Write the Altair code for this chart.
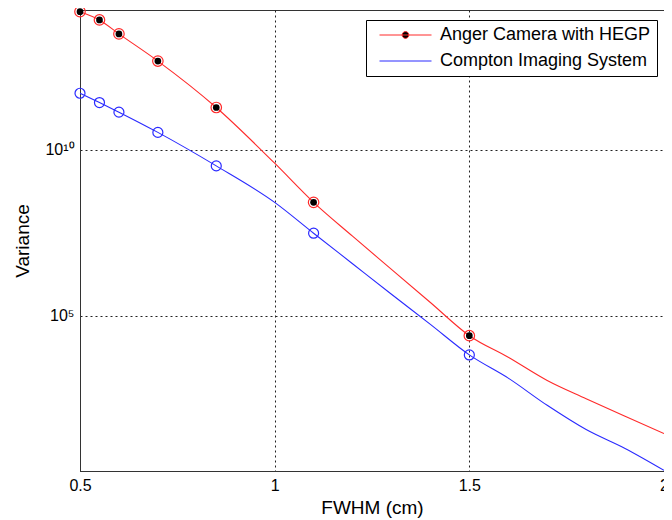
import altair as alt
import pandas as pd

series_names = ["Anger Camera with HEGP", "Compton Imaging System"]
series_colors = ["#ff2a2a", "#2a2aff"]

# marker positions (FWHM, cm) and log10(variance)
marker_fwhm = [0.5, 0.55, 0.6, 0.7, 0.85, 1.1, 1.5]
anger_marker_log = [14.17, 13.92, 13.50, 12.68, 11.28, 8.42, 4.40]
compton_marker_log = [11.71, 11.43, 11.14, 10.53, 9.52, 7.49, 3.82]

# additional points
anger_curve_fwhm = [1.0, 1.2, 1.3, 1.4, 1.6, 1.7, 1.8, 1.9, 2.0]
anger_curve_log = [9.60, 7.40, 6.40, 5.40, 3.75, 3.05, 2.50, 1.97, 1.45]
compton_curve_fwhm = [1.0, 1.2, 1.3, 1.4, 1.6, 1.7, 1.8, 1.9, 2.0]
compton_curve_log = [8.42, 6.57, 5.65, 4.74, 3.12, 2.30, 1.57, 1.00, 0.34]

y_domain_log = [0.32, 14.22]
y_tick_values = [1e5, 1e10]
x_tick_values = [0.5, 1, 1.5, 2]

rows = []
for x, v in zip(marker_fwhm + anger_curve_fwhm, anger_marker_log + anger_curve_log):
    rows.append({"series": series_names[0], "fwhm": x, "variance": 10 ** v})
for x, v in zip(marker_fwhm + compton_curve_fwhm, compton_marker_log + compton_curve_log):
    rows.append({"series": series_names[1], "fwhm": x, "variance": 10 ** v})
curve_df = pd.DataFrame(rows).sort_values(["series", "fwhm"])

markers_df = pd.DataFrame(
    [{"series": series_names[0], "fwhm": x, "variance": 10 ** v} for x, v in zip(marker_fwhm, anger_marker_log)]
    + [{"series": series_names[1], "fwhm": x, "variance": 10 ** v} for x, v in zip(marker_fwhm, compton_marker_log)]
)

FONT = "Liberation Sans"

x_enc = alt.X(
    "fwhm:Q",
    scale=alt.Scale(domain=[0.5, 2], nice=False, zero=False),
    axis=alt.Axis(values=x_tick_values, format="~g", title="FWHM (cm)", titlePadding=5, labelFlush=False),
)
y_enc = alt.Y(
    "variance:Q",
    scale=alt.Scale(type="log", domain=[10 ** y_domain_log[0], 10 ** y_domain_log[1]], nice=False),
    axis=alt.Axis(
        values=y_tick_values,
        labelExpr="datum.value < 1e7 ? '10⁵' : '10¹⁰'",
        title="Variance",
        titlePadding=12,
        labelFlush=False,
    ),
)


def series_chart(df, name):
    return alt.Chart(df).transform_filter(alt.datum.series == name)


red_line = series_chart(curve_df, series_names[0]).mark_line(
    interpolate="monotone", strokeWidth=1.1, color=series_colors[0]
).encode(x=x_enc, y=y_enc)
blue_line = series_chart(curve_df, series_names[1]).mark_line(
    interpolate="monotone", strokeWidth=1.1, color=series_colors[1]
).encode(x=x_enc, y=y_enc)

red_ring = series_chart(markers_df, series_names[0]).mark_point(
    shape="circle", filled=False, size=110, strokeWidth=1.2, color=series_colors[0], opacity=1
).encode(x=x_enc, y=y_enc)
black_dot = series_chart(markers_df, series_names[0]).mark_point(
    shape="circle", filled=True, size=45, color="black", opacity=1
).encode(x=x_enc, y=y_enc)
blue_ring = series_chart(markers_df, series_names[1]).mark_point(
    shape="circle", filled=False, size=100, strokeWidth=1.2, color=series_colors[1], opacity=1
).encode(x=x_enc, y=y_enc)

# legend symbols: a 52px line (size 169 -> unit = 6.5px), with a dot for the first entry
path_anger = "M-4,0H4M-0.52,0A0.52,0.52,0,1,1,0.52,0A0.52,0.52,0,1,1,-0.52,0Z"
path_compton = "M-4,0H4"

legend_def = alt.Legend(
    title=None,
    orient="none",
    legendX=286,
    legendY=10,
    symbolSize=169,
    symbolOffset=24.5,
    symbolStrokeWidth=1,
    symbolOpacity=1,
    labelFontSize=18,
    labelFont=FONT,
    labelColor="black",
    labelOffset=25.5,
    labelLimit=0,
    padding=6,
    rowPadding=8,
    strokeColor="black",
    fillColor="white",
    cornerRadius=0,
)

# invisible copy of the markers that only carries the legend
legend_layer = alt.Chart(markers_df).mark_point(
    fill="black", strokeWidth=1, opacity=0
).encode(
    x=x_enc, y=y_enc,
    stroke=alt.Stroke("series:N", scale=alt.Scale(domain=series_names, range=series_colors), legend=legend_def),
    shape=alt.Shape("series:N", scale=alt.Scale(domain=series_names, range=[path_anger, path_compton]), legend=legend_def),
)

chart = (
    alt.layer(red_line, blue_line, red_ring, black_dot, blue_ring, legend_layer)
    .properties(
        width=584,
        height=461,
        autosize=alt.AutoSizeParams(type="none"),
        padding={"left": 72, "top": 2, "right": 0, "bottom": 48},
        background="white",
    )
    .configure_view(stroke="#333", strokeWidth=1)
    .configure_axis(
        labelFont=FONT,
        titleFont=FONT,
        labelFontSize=16,
        titleFontSize=19,
        titleFontWeight="normal",
        labelColor="black",
        titleColor="black",
        grid=True,
        gridColor="#222",
        gridDash=[2, 3],
        gridWidth=1,
        gridOpacity=1,
        ticks=False,
        domainColor="#333",
        labelPadding=6,
    )
)

chart.save("out.html", embed_options={"renderer": "svg", "actions": False})
